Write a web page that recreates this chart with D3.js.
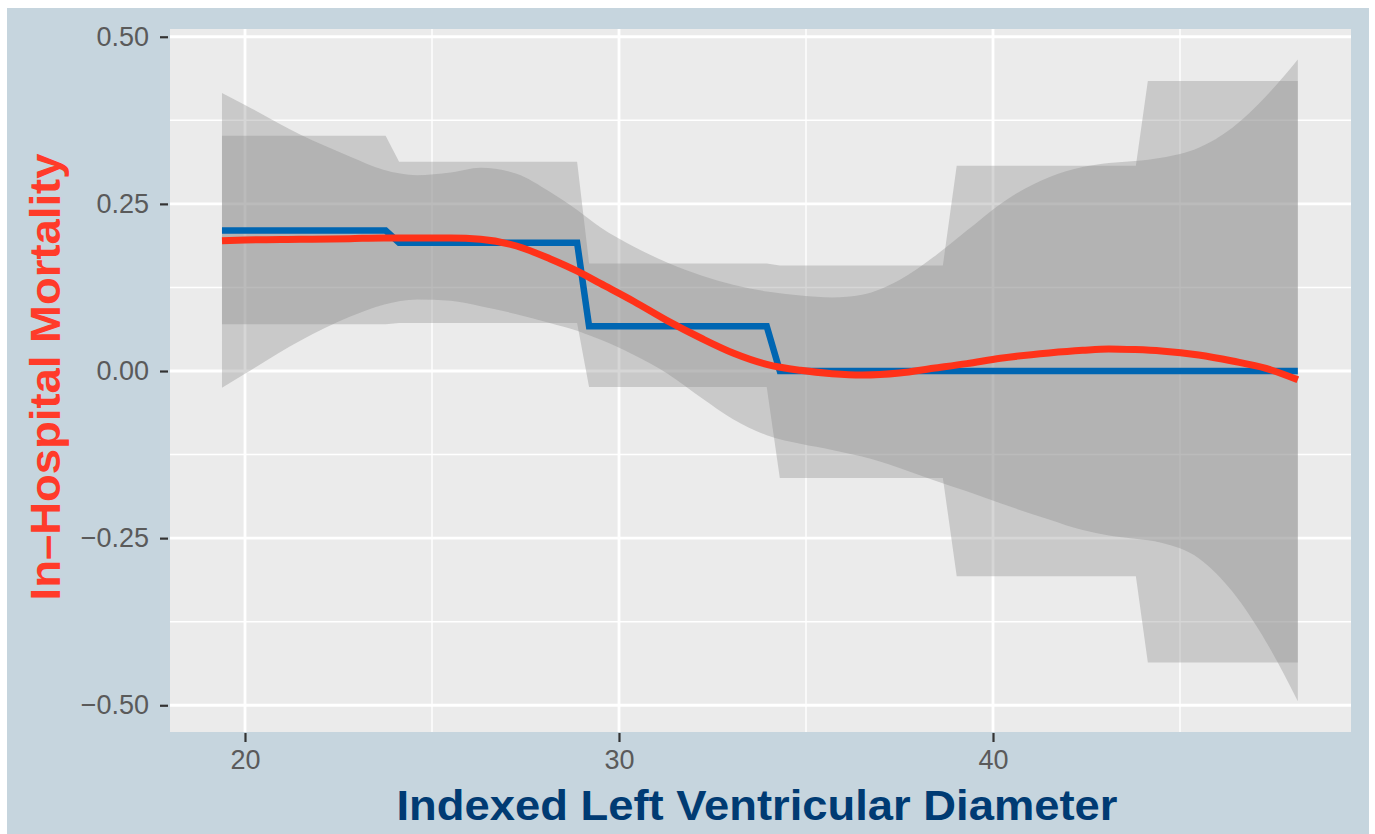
<!DOCTYPE html>
<html><head><meta charset="utf-8">
<script src="https://cdn.jsdelivr.net/npm/d3@7"></script>
<style>html,body{margin:0;padding:0;background:#fff;}svg{display:block;}</style>
</head><body>
<script>
// ---- data ----
const xTicks = [20, 30, 40];
const xMinor = [25, 35, 45];
const yTicks = [-0.5, -0.25, 0, 0.25, 0.5];
const yMinor = [-0.375, -0.125, 0.125, 0.375];

// step fit (blue)
const stepX = [19.385, 23.76, 24.12, 28.88, 29.2, 33.95, 34.3, 48.15];
const stepY = [0.210, 0.210, 0.192, 0.192, 0.067, 0.067, 0.0, 0.0];
// step confidence band
const stepBandX  = [19.385, 23.76, 24.12, 28.88, 29.2, 33.95, 34.3, 38.66, 39.03, 43.82, 44.14, 48.15];
const stepBandHi = [0.352, 0.352, 0.313, 0.313, 0.161, 0.161, 0.158, 0.158, 0.307, 0.307, 0.434, 0.434];
const stepBandLo = [0.070, 0.070, 0.072, 0.072, -0.024, -0.024, -0.160, -0.160, -0.307, -0.307, -0.436, -0.436];

// smooth fit (red)
const smoothX  = [19.385, 20, 21.5, 22.8, 23.7, 24.6, 25.5, 26.3, 27.26, 28.15, 28.9, 29.5, 30.4, 31.3, 32.2, 33.05, 33.95, 34.85, 35.7, 36.5, 37.5, 38.4, 39.3, 40.2, 41.5, 42.4, 43.1, 43.8, 44.5, 45.5, 46.4, 47.3, 48.15];
const smoothY  = [0.195, 0.196, 0.197, 0.198, 0.199, 0.199, 0.199, 0.197, 0.187, 0.168, 0.149, 0.131, 0.104, 0.075, 0.049, 0.027, 0.010, 0.001, -0.004, -0.006, -0.003, 0.004, 0.011, 0.019, 0.027, 0.031, 0.033, 0.032, 0.030, 0.024, 0.015, 0.004, -0.013];
const smoothHi = [0.416, 0.398, 0.353, 0.321, 0.301, 0.293, 0.297, 0.304, 0.295, 0.268, 0.240, 0.215, 0.186, 0.162, 0.143, 0.129, 0.119, 0.113, 0.110, 0.114, 0.136, 0.170, 0.210, 0.250, 0.290, 0.305, 0.311, 0.314, 0.319, 0.334, 0.364, 0.411, 0.466];
const smoothLo = [-0.025, -0.004, 0.046, 0.081, 0.099, 0.107, 0.105, 0.097, 0.085, 0.072, 0.060, 0.047, 0.024, -0.004, -0.040, -0.072, -0.096, -0.109, -0.118, -0.128, -0.145, -0.163, -0.180, -0.198, -0.222, -0.238, -0.246, -0.251, -0.257, -0.280, -0.330, -0.405, -0.494];

const xTitle = "Indexed Left Ventricular Diameter";
const yTitle = "In\u2013Hospital Mortality";

// ---- layout ----
const W = 1375, H = 834;
const P = {l: 170, r: 1351, t: 29, b: 732};

const svg = d3.select("body").append("svg").attr("width", W).attr("height", H);
svg.append("rect").attr("x", 7).attr("y", 8).attr("width", 1362).attr("height", H - 8).attr("fill", "#c6d5de");

const x = d3.scaleLinear().domain([17.995, 49.572]).range([P.l, P.r]);
const y = d3.scaleLinear().domain([-0.540, 0.5116]).range([P.b, P.t]);

svg.append("rect").attr("x", P.l).attr("y", P.t).attr("width", P.r - P.l).attr("height", P.b - P.t).attr("fill", "#ebebeb");

const g = svg.append("g");
g.selectAll(".vmin").data(xMinor).join("line")
  .attr("x1", d => x(d)).attr("x2", d => x(d)).attr("y1", P.t).attr("y2", P.b)
  .attr("stroke", "#fff").attr("stroke-width", 1.4);
g.selectAll(".hmin").data(yMinor).join("line")
  .attr("y1", d => y(d)).attr("y2", d => y(d)).attr("x1", P.l).attr("x2", P.r)
  .attr("stroke", "#fff").attr("stroke-width", 1.4);
g.selectAll(".vmaj").data(xTicks).join("line")
  .attr("x1", d => x(d)).attr("x2", d => x(d)).attr("y1", P.t).attr("y2", P.b)
  .attr("stroke", "#fff").attr("stroke-width", 2.8);
g.selectAll(".hmaj").data(yTicks).join("line")
  .attr("y1", d => y(d)).attr("y2", d => y(d)).attr("x1", P.l).attr("x2", P.r)
  .attr("stroke", "#fff").attr("stroke-width", 2.8);

// bands
const stepBand = stepBandX.map((d, i) => ({x: d, lo: stepBandLo[i], hi: stepBandHi[i]}));
const smoothBand = smoothX.map((d, i) => ({x: d, lo: smoothLo[i], hi: smoothHi[i]}));
const smoothCurve = d3.curveMonotoneX;

svg.append("path").datum(stepBand)
  .attr("d", d3.area().x(d => x(d.x)).y0(d => y(d.lo)).y1(d => y(d.hi)))
  .attr("fill", "#8a8a8a").attr("fill-opacity", 0.35);
svg.append("path").datum(smoothBand)
  .attr("d", d3.area().curve(smoothCurve).x(d => x(d.x)).y0(d => y(d.lo)).y1(d => y(d.hi)))
  .attr("fill", "#8a8a8a").attr("fill-opacity", 0.35);

// lines
const stepPts = stepX.map((d, i) => [d, stepY[i]]);
svg.append("path").datum(stepPts)
  .attr("d", d3.line().x(d => x(d[0])).y(d => y(d[1])))
  .attr("fill", "none").attr("stroke", "#0066b2").attr("stroke-width", 6.5).attr("stroke-linejoin", "miter");
const smoothPts = smoothX.map((d, i) => [d, smoothY[i]]);
svg.append("path").datum(smoothPts)
  .attr("d", d3.line().curve(smoothCurve).x(d => x(d[0])).y(d => y(d[1])))
  .attr("fill", "none").attr("stroke", "#ff3219").attr("stroke-width", 7);

// axes
const fmt = d3.format(".2f");
const yAxis = svg.append("g").attr("transform", `translate(${P.l - 2},0)`)
  .call(d3.axisLeft(y).tickValues(yTicks).tickFormat(fmt).tickSize(8).tickPadding(11));
const xAxis = svg.append("g").attr("transform", `translate(0,${P.b + 1})`)
  .call(d3.axisBottom(x).tickValues(xTicks).tickFormat(d3.format("d")).tickSize(9).tickPadding(8));
[yAxis, xAxis].forEach(a => {
  a.select(".domain").remove();
  a.selectAll(".tick line").attr("stroke", "#333").attr("stroke-width", 2.2);
  a.selectAll(".tick text").attr("fill", "#5a5a5a").attr("font-size", 27)
    .attr("font-family", "'Liberation Sans', Arial, Helvetica, sans-serif");
});

// titles
svg.append("text").attr("x", 757).attr("y", 820).attr("text-anchor", "middle")
  .attr("font-family", "'Liberation Sans', Arial, Helvetica, sans-serif").attr("font-weight", "bold")
  .attr("font-size", 43).attr("fill", "#003b73")
  .attr("textLength", 721).attr("lengthAdjust", "spacingAndGlyphs")
  .text(xTitle);
svg.append("text").attr("transform", "translate(60,377) rotate(-90)").attr("text-anchor", "middle")
  .attr("font-family", "'Liberation Sans', Arial, Helvetica, sans-serif").attr("font-weight", "bold")
  .attr("font-size", 43).attr("fill", "#ff3b2a")
  .attr("textLength", 447).attr("lengthAdjust", "spacingAndGlyphs")
  .text(yTitle);
</script>
</body></html>
